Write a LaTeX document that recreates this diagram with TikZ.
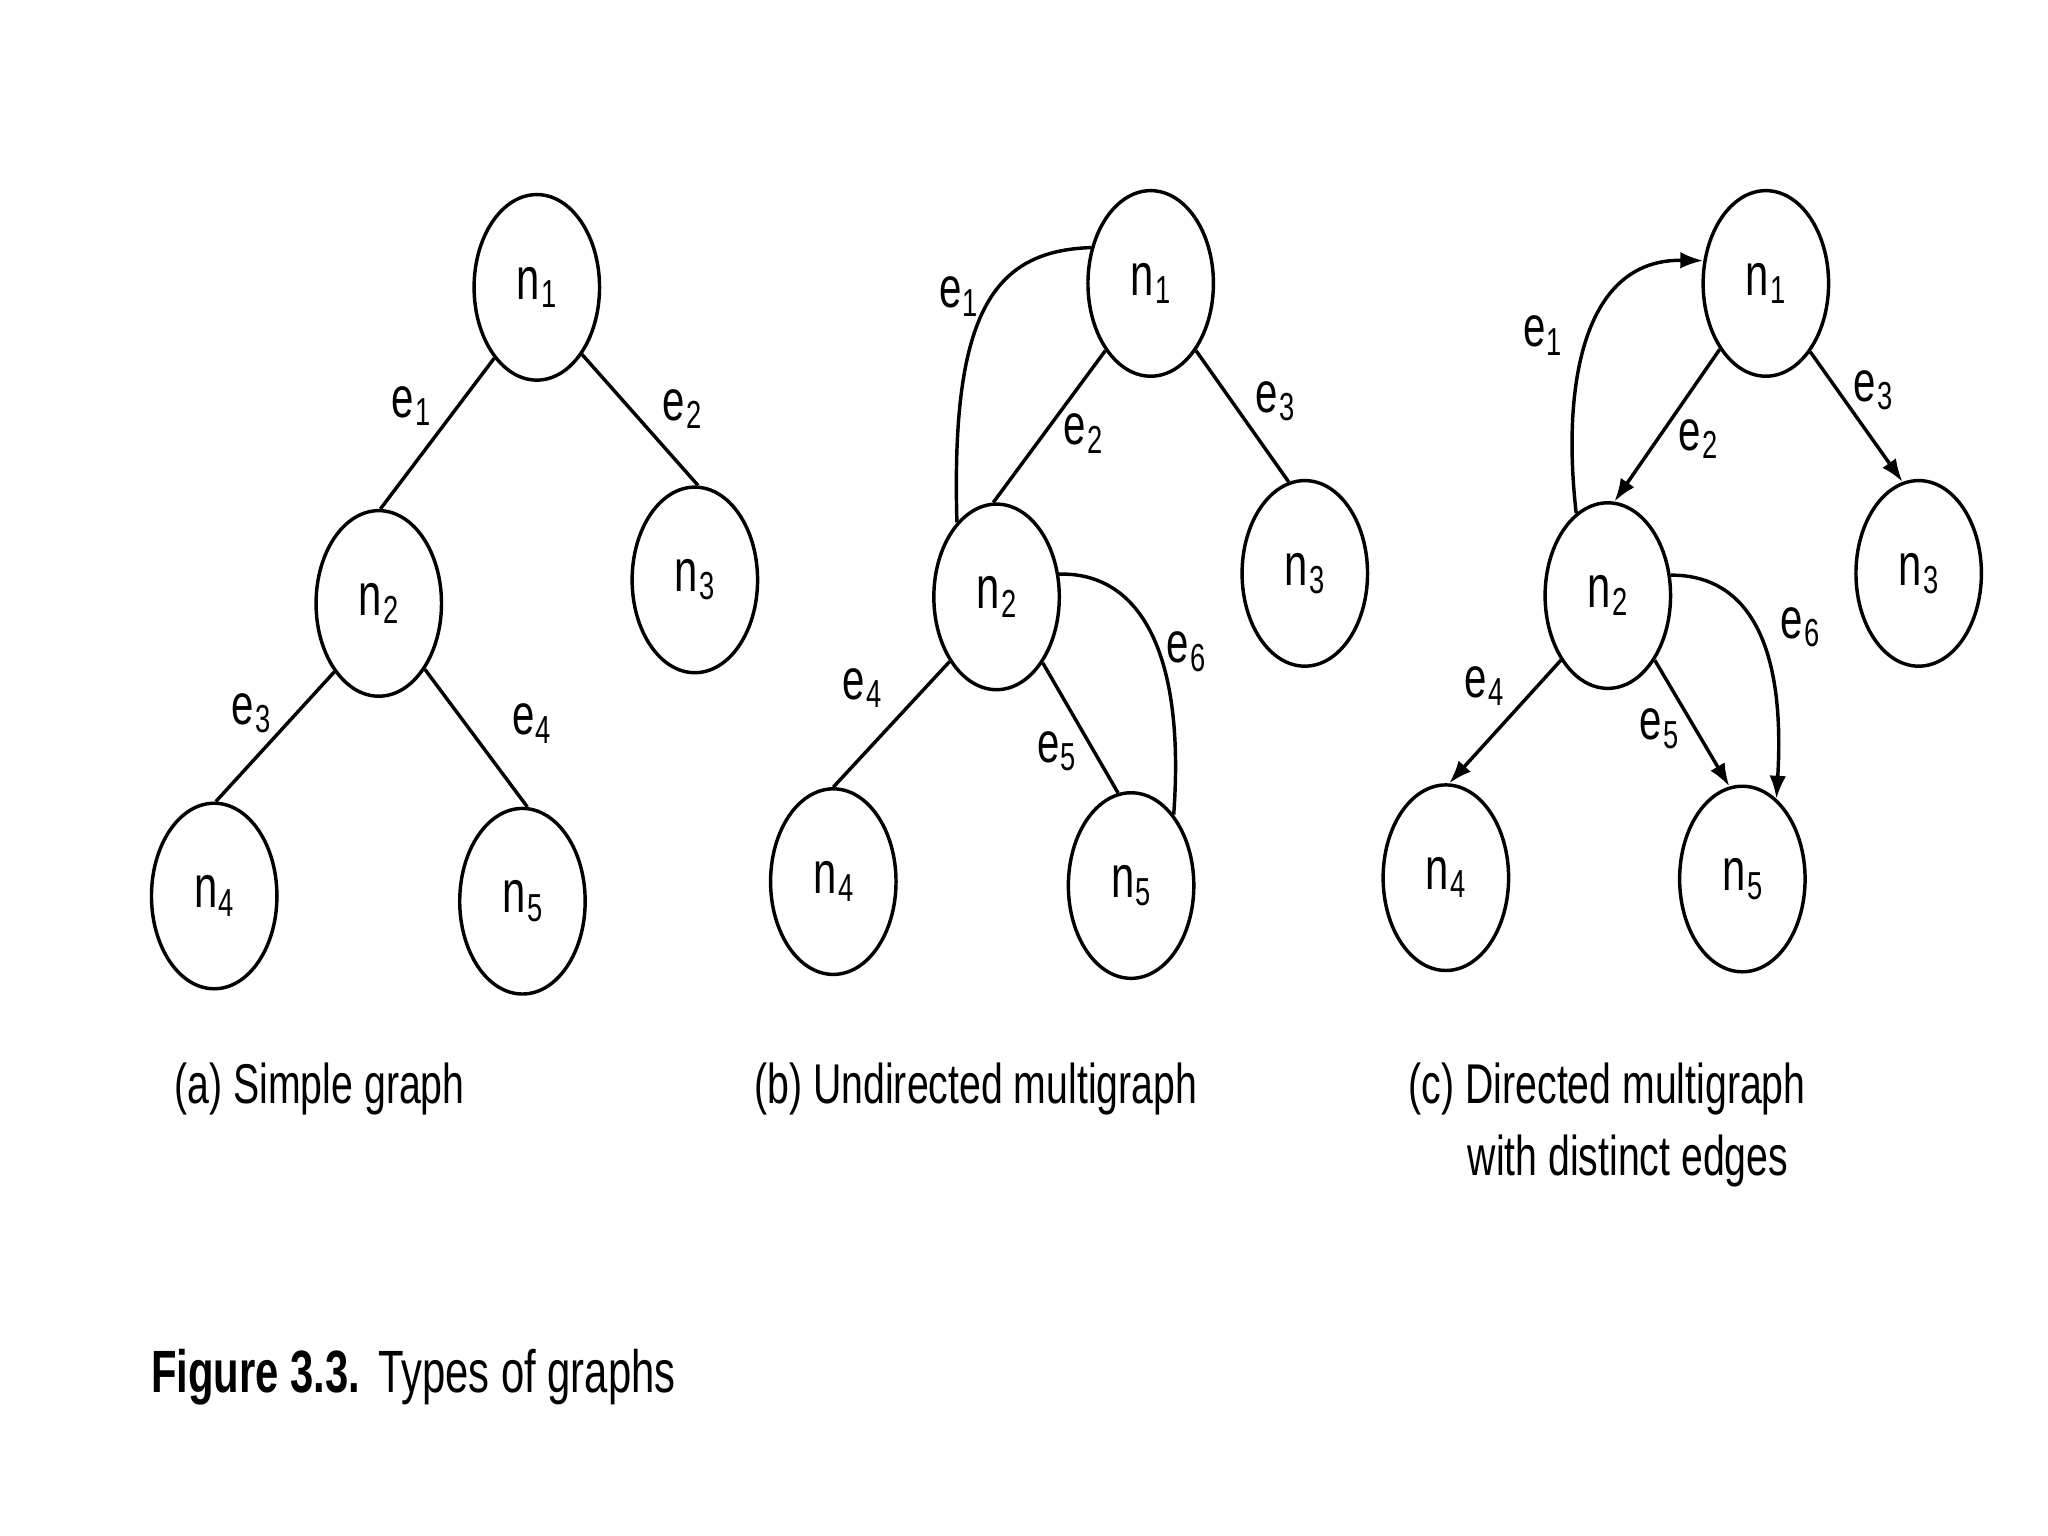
\documentclass[tikz,border=0pt]{standalone}
\usepackage{fontspec}
\setmainfont{Liberation Sans}[FakeStretch=0.7]
\usetikzlibrary{shapes.geometric,arrows.meta}
\newcommand{\lbsub}[2]{#1\kern0.3pt\raisebox{-1.8pt}{\fontsize{8.5}{9}\selectfont #2}}
\begin{document}
\begin{tikzpicture}[x=0.01cm,y=-0.01cm,
  gnode/.style={ellipse, draw, line width=0.75pt, minimum width=0.96cm, minimum height=1.42cm, inner sep=0pt, font=\fontsize{13}{14}\selectfont},
  elbl/.style={inner sep=0pt, font=\fontsize{12.5}{14}\selectfont},
  lnk/.style={line width=0.75pt},
  arr/.style={lnk, -{Latex[length=5pt,width=3.6pt]}},
  captxt/.style={anchor=base west, inner sep=0pt, font=\fontsize{12.2}{14}\selectfont}]
\useasboundingbox (0,0) rectangle (1568,1176);

% (a) simple graph
\node[gnode] (a1) at (411,220) {\lbsub{n}{1}};
\node[gnode] (a2) at (290,462) {\lbsub{n}{2}};
\node[gnode] (a3) at (532,444) {\lbsub{n}{3}};
\node[gnode] (a4) at (164,686) {\lbsub{n}{4}};
\node[gnode] (a5) at (400,690) {\lbsub{n}{5}};
\draw[lnk] (a1.239) -- (a2.89);
\draw[lnk] (a1.304) -- (a3.88);
\draw[lnk] (a2.237) -- (a4.89);
\draw[lnk] (a2.305) -- (a5.87);
\node[elbl] (la1) at (315,311) {\lbsub{e}{1}};
\node[elbl] (la2) at (522,313) {\lbsub{e}{2}};
\node[elbl] (la3) at (192,546) {\lbsub{e}{3}};
\node[elbl] (la4) at (407,554) {\lbsub{e}{4}};

% (b) undirected multigraph
\node[gnode] (b1) at (881,217) {\lbsub{n}{1}};
\node[gnode] (b2) at (763,457) {\lbsub{n}{2}};
\node[gnode] (b3) at (999,439) {\lbsub{n}{3}};
\node[gnode] (b4) at (638,675) {\lbsub{n}{4}};
\node[gnode] (b5) at (866,678) {\lbsub{n}{5}};
\draw[lnk] (b1.149) .. controls (760,192) and (728,240) .. (b2.118);
\draw[lnk] (b1.236) -- (b2.92);
\draw[lnk] (b1.304) -- (b3.100);
\draw[lnk] (b2.234) -- (b4.90);
\draw[lnk] (b2.305) -- (b5.98);
\draw[lnk] (b2.20) .. controls (870,438) and (908,495) .. (b5.59);
\node[elbl] (lb1) at (734,227) {\lbsub{e}{1}};
\node[elbl] (lb2) at (829,332) {\lbsub{e}{2}};
\node[elbl] (lb3) at (976,307) {\lbsub{e}{3}};
\node[elbl] (lb4) at (660,527) {\lbsub{e}{4}};
\node[elbl] (lb5) at (809,575) {\lbsub{e}{5}};
\node[elbl] (lb6) at (908,499) {\lbsub{e}{6}};

% (c) directed multigraph
\node[gnode] (c1) at (1352,217) {\lbsub{n}{1}};
\node[gnode] (c2) at (1231,456) {\lbsub{n}{2}};
\node[gnode] (c3) at (1469,439) {\lbsub{n}{3}};
\node[gnode] (c4) at (1107,672) {\lbsub{n}{4}};
\node[gnode] (c5) at (1334,673) {\lbsub{n}{5}};
\draw[arr] (c2.111) .. controls (1196,300) and (1210,198) .. (c1.160);
\draw[arr] (c1.235) -- (c2.86);
\draw[arr] (c1.303) -- (c3.100);
\draw[arr] (c2.234) -- (c4.88);
\draw[arr] (c2.306) -- (c5.98);
\draw[arr] (c2.18) .. controls (1330,440) and (1368,480) .. (c5.67);
\node[elbl] (lc1) at (1181,257) {\lbsub{e}{1}};
\node[elbl] (lc2) at (1300,336) {\lbsub{e}{2}};
\node[elbl] (lc3) at (1434,299) {\lbsub{e}{3}};
\node[elbl] (lc4) at (1136,525) {\lbsub{e}{4}};
\node[elbl] (lc5) at (1270,558) {\lbsub{e}{5}};
\node[elbl] (lc6) at (1378,480) {\lbsub{e}{6}};

% captions
\node[captxt] (capa) at (133,845) {(a) Simple graph};
\node[captxt] (capb) at (577,845) {(b) Undirected multigraph};
\node[captxt] (capc) at (1078,845) {(c) Directed multigraph};
\node[captxt] (capd) at (1123,900) {with distinct edges};
\node[captxt, font=\fontsize{13}{15}\selectfont] (fig) at (115,1066) {\textbf{Figure 3.3.}\hspace{0.3em}Types of graphs};
\end{tikzpicture}
\end{document}
